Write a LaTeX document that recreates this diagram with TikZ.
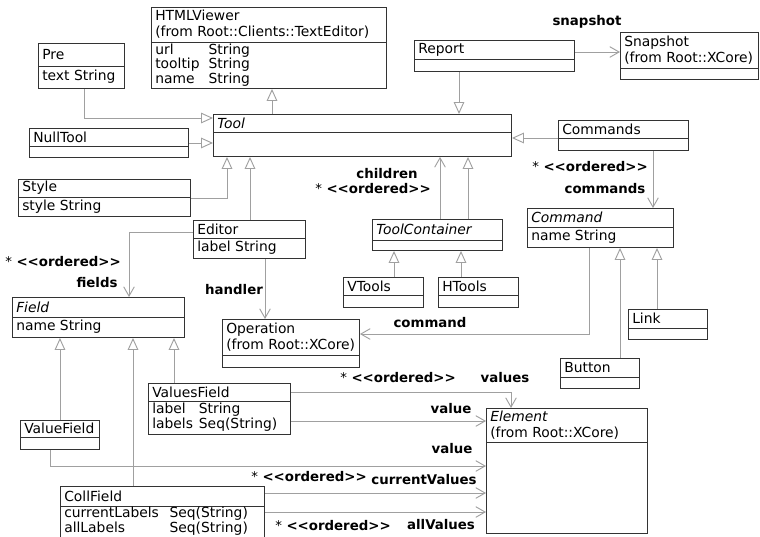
\documentclass[tikz,border=0pt]{standalone}
\usepackage{fontspec}
\setmainfont{DejaVu Sans}
\usepackage{xcolor}
\usepackage{tikz}
\usetikzlibrary{arrows.meta,calc}

\definecolor{linegray}{HTML}{A0A0A0}
\definecolor{boxline}{HTML}{333333}

\tikzset{
  umlbox/.style={draw=boxline, line width=0.7pt, fill=white, anchor=north west, inner sep=0pt},
  umltitle/.style={anchor=west, inner sep=3pt, align=left, font=\fontsize{10.4}{12}\selectfont},
  umlattr/.style={anchor=west, inner sep=3pt, align=left, font=\fontsize{10.4}{9}\selectfont},
  rolelbl/.style={inner sep=0pt, font=\fontsize{10}{12}\selectfont\bfseries},
  inherit/.style={draw=linegray, line width=0.7pt, -{Triangle[open, length=9pt, width=8pt, fill=white]}},
  assoc/.style={draw=linegray, line width=0.7pt, -{Straight Barb[length=7pt, width=8pt]}}
}

% #1 name, #2 x, #3 y, #4 width, #5 height, #6 header height, #7 title, #8 attributes
\newcommand{\umlclass}[8]{%
  \node[umlbox, minimum width=#4*0.75pt, minimum height=#5*0.75pt] (#1) at (#2,#3) {};
  \draw[boxline, line width=0.7pt] ($(#1.north west)+(0,#6)$) -- ($(#1.north east)+(0,#6)$);
  \node[umltitle] at ($(#1.north west)+(0,{#6/2})$) {#7};
  \node[umlattr] at ($(#1.north west)+(0,{(#5+#6)/2})$) {#8};
}
% multiplicity text
\newcommand{\ordered}{{\mdseries*}~<\kern0pt<ordered>\kern0pt>}

\begin{document}
\begin{tikzpicture}[x=0.75pt, y=-0.75pt]
  \useasboundingbox (0,0) rectangle (760,536);

  % Classes
  \umlclass{pre}{38}{43}{86}{45}{23}{Pre}{text String}
  \umlclass{html}{151}{7}{235}{81}{35}{HTMLViewer\\(from Root::Clients::TextEditor)}%
    {\makebox[40pt][l]{url}String\\\makebox[40pt][l]{tooltip}String\\\makebox[40pt][l]{name}String}
  \umlclass{report}{414}{40}{160}{31}{19}{Report}{}
  \umlclass{snapshot}{620}{32}{138}{47}{36}{Snapshot\\(from Root::XCore)}{}
  \umlclass{nulltool}{29}{128}{159}{29}{18}{NullTool}{}
  \umlclass{tool}{213}{114}{298}{42}{18}{\textit{Tool}}{}
  \umlclass{commands}{558}{120}{130}{30}{18}{Commands}{}
  \umlclass{style}{18}{179}{172}{37}{18}{Style}{style String}
  \umlclass{editor}{193}{220}{112}{38}{18}{Editor}{label String}
  \umlclass{toolcontainer}{372}{219}{130}{31}{21}{\textit{ToolContainer}}{}
  \umlclass{command}{527}{208}{146}{39}{19}{\textit{Command}}{name String}
  \umlclass{vtools}{343}{277}{80}{30}{18}{VTools}{}
  \umlclass{htools}{438}{277}{80}{30}{18}{HTools}{}
  \umlclass{field}{12}{297}{172}{40}{20}{\textit{Field}}{name String}
  \umlclass{operation}{222}{319}{137}{48}{36}{Operation\\(from Root::XCore)}{}
  \umlclass{link}{628}{309}{79}{30}{19}{Link}{}
  \umlclass{button}{560}{358}{79}{30}{19}{Button}{}
  \umlclass{valuesfield}{148}{383}{142}{51}{18}{ValuesField}%
    {\makebox[35pt][l]{label}String\\\makebox[35pt][l]{labels}Seq(String)}
  \umlclass{valuefield}{20}{420}{79}{29}{17}{ValueField}{}
  \umlclass{element}{486}{408}{161}{125}{34}{\textit{Element}\\(from Root::XCore)}{}
  \umlclass{collfield}{60}{486}{204}{51}{20}{CollField}%
    {\makebox[79pt][l]{currentLabels}Seq(String)\\\makebox[79pt][l]{allLabels}Seq(String)}

  % Inheritance
  \draw[inherit] ($(pre.south west)+(46,0)$) |- ($(tool.north west)+(0,4)$);
  \draw[inherit] (nulltool.east) -- (nulltool.east -| tool.west);
  \draw[inherit] ($(tool.north west)+(59,0)$) -- ($(html.south west)+(121,0)$);
  \draw[inherit] ($(report.south west)+(45,0)$) -- ($(tool.north west)+(246,0)$);
  \draw[inherit] ($(commands.north west)+(0,18)$) -- ($(tool.north east)+(0,24)$);
  \draw[inherit] ($(style.north east)+(0,19)$) -| ($(tool.south west)+(14,0)$);
  \draw[inherit] ($(editor.north west)+(57,0)$) -- ($(tool.south west)+(37,0)$);
  \draw[inherit] ($(toolcontainer.north west)+(96,0)$) -- ($(tool.south west)+(255,0)$);
  \draw[inherit] ($(vtools.north west)+(51,0)$) -- ($(toolcontainer.south west)+(22,0)$);
  \draw[inherit] ($(htools.north west)+(23,0)$) -- ($(toolcontainer.south west)+(89,0)$);
  \draw[inherit] ($(link.north west)+(29,0)$) -- ($(command.south west)+(130,0)$);
  \draw[inherit] ($(button.north west)+(60,0)$) -- ($(command.south west)+(93,0)$);
  \draw[inherit] (valuefield.north) -- (valuefield.north |- field.south);
  \draw[inherit] ($(collfield.north west)+(73,0)$) -- ($(field.south west)+(121,0)$);
  \draw[inherit] ($(valuesfield.north west)+(26,0)$) -- ($(field.south west)+(162,0)$);

  % Associations
  \draw[assoc] ($(report.north east)+(0,12)$) -- ($(snapshot.north west)+(0,20)$);
  \draw[assoc] ($(toolcontainer.north west)+(68,0)$) -- ($(tool.south west)+(227,0)$);
  \draw[assoc] ($(commands.south west)+(95,0)$) -- ($(command.north west)+(126,0)$);
  \draw[assoc] ($(editor.north west)+(0,12)$) -| ($(field.north west)+(117,0)$);
  \draw[assoc] ($(editor.south west)+(72,0)$) -- ($(operation.north west)+(43,0)$);
  \draw[assoc] ($(command.south west)+(62,0)$) |- ($(operation.north east)+(0,15)$);
  \draw[assoc] ($(valuesfield.north east)+(0,9)$) -| ($(element.north west)+(25,0)$);
  \draw[assoc] ($(valuesfield.north east)+(0,38)$) -- ($(element.north west)+(0,13)$);
  \draw[assoc] ($(valuefield.south west)+(30,0)$) |- ($(element.north west)+(0,58)$);
  \draw[assoc] ($(collfield.north east)+(0,7)$) -- ($(element.north west)+(0,85)$);
  \draw[assoc] ($(collfield.north east)+(0,26)$) -- ($(element.north west)+(0,104)$);

  % Roles
  \node[rolelbl] (lsnapshot) at (587,22) {snapshot};
  \node[rolelbl] (lchildren) at (387,174) {children};
  \node[rolelbl] (lchildrenmult) at (373,189) {\ordered};
  \node[rolelbl] (lcommandsmult) at (590,167) {\ordered};
  \node[rolelbl] (lcommands) at (605,189) {commands};
  \node[rolelbl] (lfieldsmult) at (63,262) {\ordered};
  \node[rolelbl] (lfields) at (97,283) {fields};
  \node[rolelbl] (lhandler) at (234,290) {handler};
  \node[rolelbl] (lcommand) at (430,323) {command};
  \node[rolelbl] (lvaluesmult) at (398,378) {\ordered};
  \node[rolelbl] (lvalues) at (505,378) {values};
  \node[rolelbl] (lvalue) at (451,409) {value};
  \node[rolelbl] (lvaluef) at (452,449) {value};
  \node[rolelbl] (lcurrentmult) at (309,477) {\ordered};
  \node[rolelbl] (lcurrent) at (424,480) {currentValues};
  \node[rolelbl] (lallmult) at (333,526) {\ordered};
  \node[rolelbl] (lall) at (441,525) {allValues};
\end{tikzpicture}
\end{document}
